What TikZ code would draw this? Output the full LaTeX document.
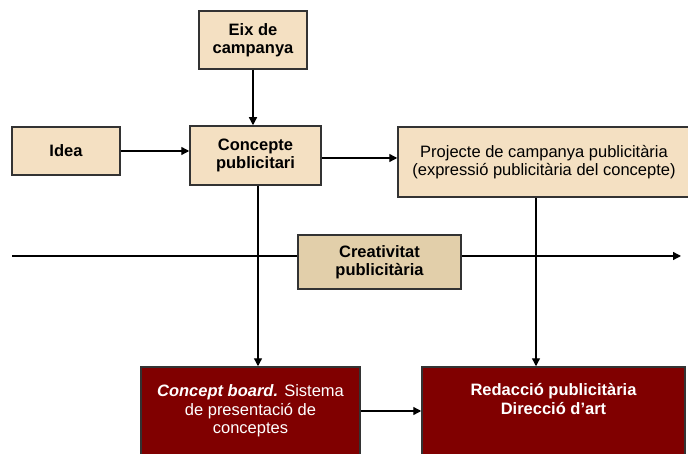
\documentclass[tikz,border=0pt]{standalone}
\usepackage{fontspec}
\setmainfont{Liberation Sans}
\usetikzlibrary{arrows.meta}
\definecolor{beix}{HTML}{F4E0C2}
\definecolor{beixfosc}{HTML}{E2CFAA}
\definecolor{granat}{HTML}{800000}
\newcommand{\mida}{\fontsize{16.5}{18.5}\selectfont}
\tikzset{
    caixa/.style={draw=black!80, line width=1.5pt, fill=beix, align=center,
        inner sep=0pt, font=\mida\bfseries},
    caixafina/.style={caixa, font=\mida},
    caixafosca/.style={caixa, fill=granat, text=white, font=\mida},
    fletxa/.style={line width=1.3pt, -{Triangle[length=8pt,width=8pt]}},
}

\begin{document}
\begin{tikzpicture}[x=1pt, y=-1pt]
\useasboundingbox (0,0) rectangle (688,454);

%eix horitzontal de la creativitat
\coordinate (esq) at (12,256);
\coordinate (dre) at (681,256);
\draw[fletxa] (esq) -- (dre);

%caixes de dalt
\node[caixa, minimum width=108pt, minimum height=58pt] (eix) at (253,40) {Eix de\\campanya};
\node[caixa, minimum width=108pt, minimum height=48pt] (idea) at (66,151) {Idea};
\node[caixa, minimum width=131pt, minimum height=59pt] (concepte) at (255.5,155.5) {Concepte\\publicitari};
\node[caixafina, minimum width=292pt, minimum height=70pt] (projecte) at (544,162)
    {Projecte de campanya publicitària\\(expressió publicitària del concepte)};
\node[caixa, fill=beixfosc, minimum width=163pt, minimum height=54pt] (creativitat) at (379.5,262)
    {Creativitat\\publicitària};

%caixes de baix
\node[caixafosca, minimum width=219pt, minimum height=88pt] (board) at (250.5,411)
    {\textbf{\textit{Concept board.}} Sistema\\de presentació de\\conceptes};
\node[caixafosca, font=\mida\bfseries, minimum width=263pt, minimum height=88pt] (redaccio) at (553.5,411)
    {Redacció publicitària\\Direcció d’art\\\strut};

%fletxes
\draw[fletxa] (eix) -- (eix |- concepte.north);
\draw[fletxa] (idea) -- (idea -| concepte.west);
\draw[fletxa] ([yshift=-2.5pt]concepte.east) -- ([yshift=-2.5pt]concepte.east -| projecte.west);
\draw[fletxa] ([xshift=2.5pt]concepte.south) -- ([xshift=2.5pt]concepte.south |- board.north);
\draw[fletxa] ([xshift=-8pt]projecte.south) -- ([xshift=-8pt]projecte.south |- redaccio.north);
\draw[fletxa] (board) -- (board -| redaccio.west);
\end{tikzpicture}
\end{document}
